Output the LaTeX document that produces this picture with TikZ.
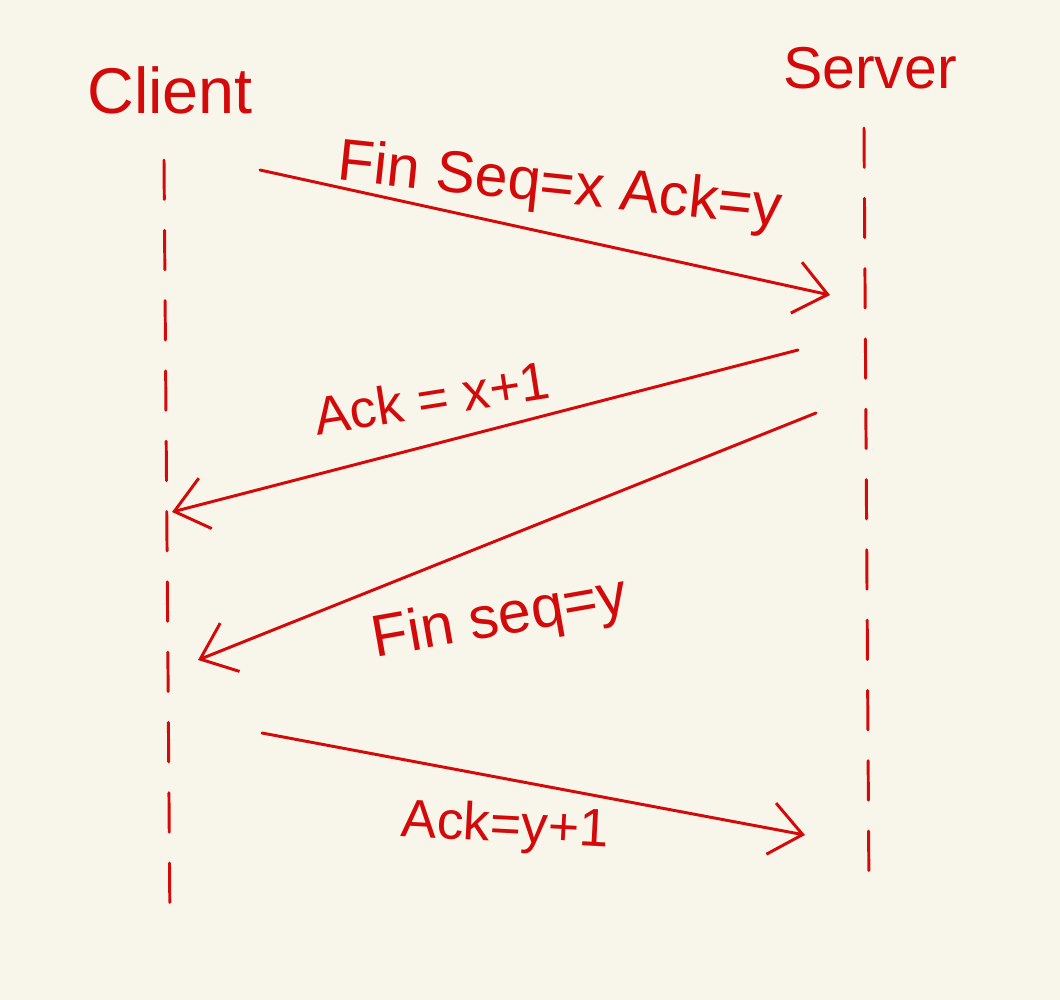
\documentclass[tikz,border=0pt]{standalone}
\usepackage{fontspec}
\setmainfont{Liberation Sans}
\usepackage{xcolor}
\usepackage{tikz}
\usetikzlibrary{arrows.meta}
\definecolor{sketchRed}{HTML}{D40A0A}
\definecolor{sketchPaper}{HTML}{F8F5EA}
\tikzset{
  party/.style={
    text=sketchRed,
    inner sep=0pt,
    font=\fontsize{46}{50}\selectfont
  },
  msgLabel/.style={
    text=sketchRed,
    inner sep=0pt,
    font=\fontsize{38}{42}\selectfont
  },
  lifeline/.style={
    draw=sketchRed,
    line width=2.1pt,
    line cap=round,
    dash pattern=on 28pt off 22pt
  },
  msg/.style={
    -{Straight Barb[length=8mm,width=13mm]},
    draw=sketchRed,
    line width=2.1pt,
    line cap=round
  }
}

\begin{document}
\begin{tikzpicture}[x=0.025cm,y=-0.025cm]
  \fill[sketchPaper] (0,0) rectangle (1060,1000);
  \useasboundingbox (0,0) rectangle (1060,1000);

  % parties
  \node[party] (client) at (170,90) {Client};
  \node[party,font=\fontsize{42}{46}\selectfont] (server) at (870,68) {Server};

  % lifelines
  \coordinate (clientTop) at (164,160);
  \coordinate (clientBot) at (170,928);
  \coordinate (serverTop) at (864,128);
  \coordinate (serverBot) at (869,895);
  \draw[lifeline] (clientTop) -- (clientBot);
  \draw[lifeline] (serverTop) -- (serverBot);

  % message ends
  \coordinate (finFrom) at (260,170);
  \coordinate (finTo) at (830,295);
  \coordinate (ackFrom) at (798,350);
  \coordinate (ackTo) at (172,512);
  \coordinate (fin2From) at (816,413);
  \coordinate (fin2To) at (198,660);
  \coordinate (ack2From) at (262,733);
  \coordinate (ack2To) at (805,835);

  \draw[msg] (finFrom) -- (finTo);
  \draw[msg] (ackFrom) -- (ackTo);
  \draw[msg] (fin2From) -- (fin2To);
  \draw[msg] (ack2From) -- (ack2To);

  % labels
  \node[msgLabel,rotate=-6,font=\fontsize{42}{46}\selectfont] (finLabel) at (560,188) {Fin Seq=x Ack=y};
  \node[msgLabel,rotate=9] (ackLabel) at (432,398) {Ack = x+1};
  \node[msgLabel,rotate=10,font=\fontsize{42}{46}\selectfont] (fin2Label) at (500,620) {Fin seq=y};
  \node[msgLabel,rotate=-3] (ack2Label) at (505,828) {Ack=y+1};
\end{tikzpicture}
\end{document}
